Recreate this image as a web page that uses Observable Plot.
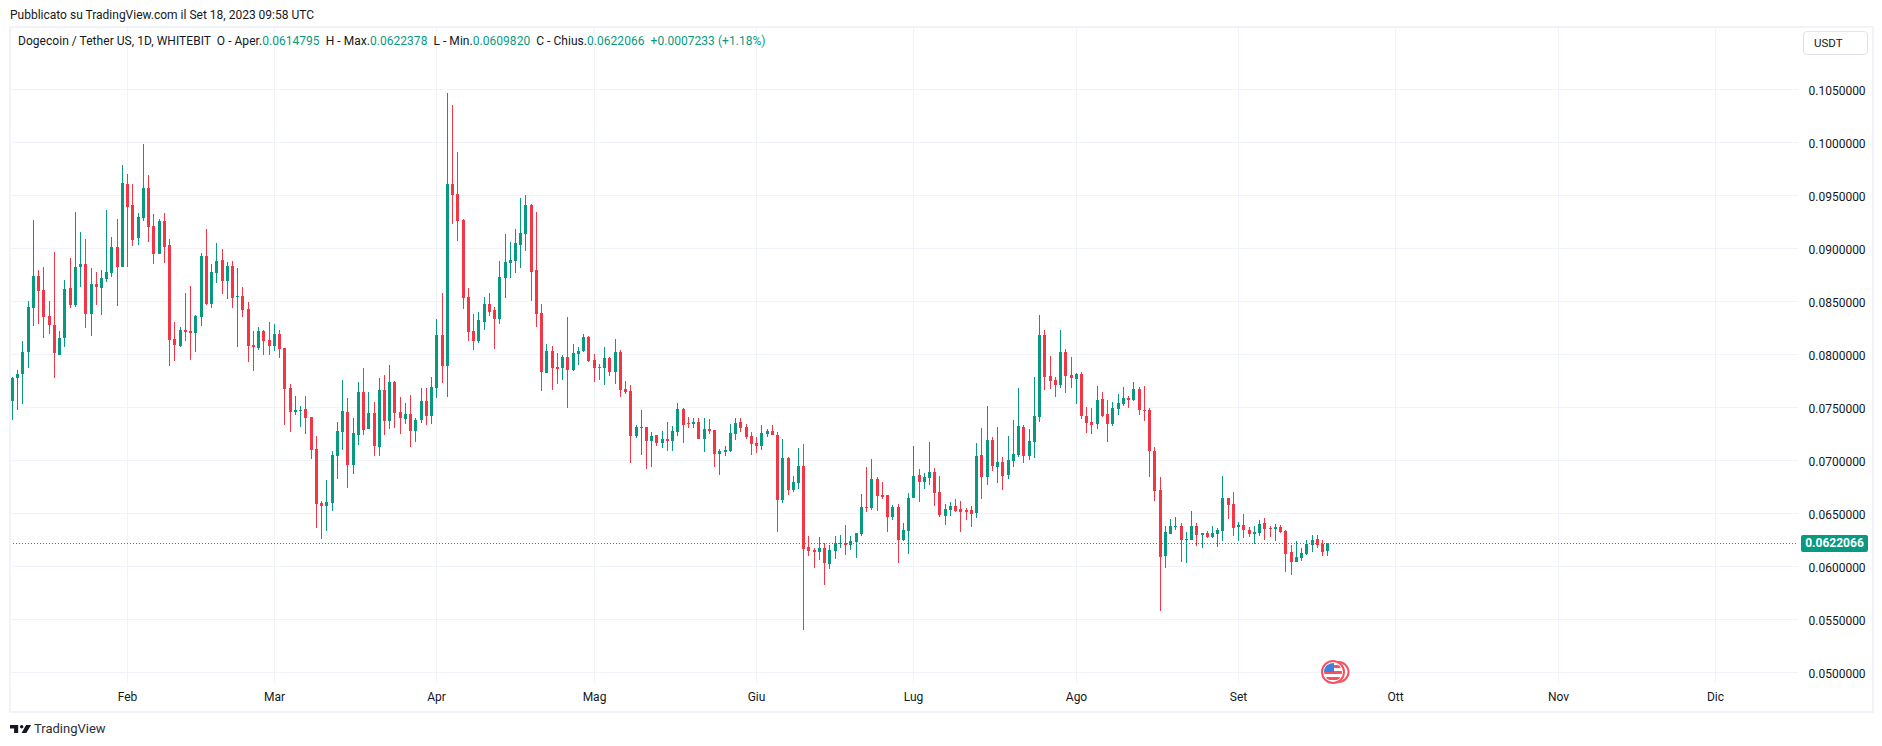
<!DOCTYPE html>
<html lang="it"><head><meta charset="utf-8"><title>Dogecoin / Tether US</title>
<script src="https://cdn.jsdelivr.net/npm/d3@7"></script>
<script src="https://cdn.jsdelivr.net/npm/@observablehq/plot@0.6"></script>
<style>
html,body{margin:0;padding:0;background:#fff;width:1882px;height:746px;overflow:hidden}
body,svg{font-family:Roboto,"Liberation Sans",sans-serif}
#page{position:relative;width:1882px;height:746px}
#pub{height:26px;line-height:31px;padding-left:10px;font-size:12px;color:#131722;white-space:nowrap}
#chart{height:686px}
#chart svg{display:block}
#frame{position:absolute;left:9px;top:26px;width:1861px;height:683px;border:2px solid #f0f3fa;pointer-events:none}
#legend{position:absolute;left:18px;top:35px;font-size:12px;line-height:13px;letter-spacing:.04px;color:#131722;white-space:pre}
#legend b{font-weight:400;color:#089981}
#usdt{position:absolute;left:1803px;top:31px;width:63px;height:22px;border:1px solid #e0e3eb;border-radius:4px;font-size:11.5px;line-height:22px;color:#131722;text-indent:10px;background:#fff}
#last{position:absolute;left:1801px;width:67px;height:17px;line-height:17px;background:#089981;color:#fff;font-size:12px;font-weight:700;text-align:center;border-radius:2px}
#flag{position:absolute;left:1320px;top:658.5px}
#logo{position:absolute;left:10px;top:721px}
#tv{position:absolute;left:34px;top:720px;font-size:13px;line-height:18px;color:#2a2e39}
</style></head><body>
<div id="page">
<div id="pub">Pubblicato su TradingView.com il Set 18, 2023 09:58 UTC</div>
<div id="chart"></div>
<div id="frame"></div>
<div id="legend">Dogecoin / Tether US, 1D, WHITEBIT  O - Aper.<b>0.0614795</b>  H - Max.<b>0.0622378</b>  L - Min.<b>0.0609820</b>  C - Chius.<b>0.0622066</b>  <b>+0.0007233 (+1.18%)</b></div>
<div id="usdt">USDT</div>
<div id="last"></div>
<svg id="flag" width="32" height="26" viewBox="0 0 32 26">
<defs><clipPath id="disc"><circle cx="13" cy="13" r="9"/></clipPath></defs>
<circle cx="18.5" cy="13" r="10" fill="#fff" stroke="#f7525f" stroke-width="2"/>
<circle cx="13" cy="13" r="11" fill="#fff" stroke="#f7525f" stroke-width="2"/>
<g clip-path="url(#disc)">
<rect x="3" y="3" width="20" height="20" fill="#fff"/>
<rect x="3" y="6" width="20" height="3" fill="#f7525f"/><rect x="3" y="12" width="20" height="3" fill="#f7525f"/><rect x="3" y="18" width="20" height="3" fill="#f7525f"/>
<rect x="3" y="3" width="11" height="10" fill="#3b82e6"/>
</g></svg>
<svg id="logo" width="21" height="16" viewBox="0 4 36 18"><path fill="#131722" d="M14 6H0v6h7v8h7V6Z"/><circle cx="20" cy="9" r="3" fill="#131722"/><path fill="#131722" d="m28 20h-8l7.5-14H36z"/></svg>
<div id="tv">TradingView</div>
</div>
<script>
// Prices in thousandths of a USDT, one entry per daily candle, Jan 10 to Sep 18 2023
const opens = [75.63,77.77,78.18,80.25,84.40,87.39,86.07,83.62,82.77,79.97,
81.57,86.26,84.65,88.24,88.52,83.84,86.64,86.26,87.11,87.67,
90.13,88.24,96.07,94.09,90.97,92.86,95.69,92.11,89.47,92.58,
90.31,81.45,80.79,82.30,82.20,82.01,83.52,89.28,84.75,87.67,
88.90,86.92,88.33,85.41,85.50,84.28,80.88,80.60,82.20,81.35,
80.79,81.92,80.60,76.82,74.56,74.65,74.84,74.09,71.07,65.97,
65.69,65.97,70.41,72.67,74.56,69.56,72.39,76.45,72.96,74.47,
71.26,76.64,73.71,77.39,74.56,73.90,74.37,72.77,73.81,75.60,
74.18,76.82,81.82,78.93,96.07,95.13,92.67,85.41,82.20,81.26,
83.05,84.75,84.18,83.33,87.20,88.62,88.81,90.31,91.35,94.09,
87.96,83.90,78.24,80.31,78.81,78.71,79.75,78.52,80.03,80.31,
81.64,79.47,78.81,78.71,79.65,78.33,80.22,76.73,76.54,72.30,
73.05,73.14,71.82,72.39,71.64,72.01,71.82,72.67,74.84,73.52,
73.43,73.62,72.01,72.96,72.86,70.60,70.79,70.88,72.48,73.62,
73.14,72.30,71.64,71.35,72.48,72.77,72.39,66.26,70.22,67.20,
67.86,69.47,61.82,61.54,61.35,61.73,60.22,61.45,62.11,62.20,
62.01,62.30,63.05,65.60,65.50,68.24,66.73,66.73,64.65,65.60,
62.49,63.33,66.45,68.62,67.96,68.33,68.90,67.01,64.75,65.31,
65.69,65.41,65.31,65.31,65.03,70.50,68.43,71.92,69.37,69.84,
68.62,69.94,70.50,73.14,70.41,71.73,74.09,81.82,77.96,77.58,
77.11,80.22,78.05,77.67,78.14,74.18,73.62,73.43,75.79,74.37,
73.43,74.84,75.31,75.88,75.69,76.73,74.75,74.75,70.88,67.20,
60.97,63.05,63.71,63.81,62.48,62.48,63.81,62.96,63.14,62.77,
63.05,63.33,66.45,65.88,63.71,63.90,63.43,63.05,63.14,64.09,
63.62,63.52,63.71,63.33,61.35,60.41,60.79,61.16,62.01,62.58,62.11,61.48];
const highs = [77.86,78.52,81.26,85.03,92.67,87.96,88.24,85.03,89.65,82.20,
87.01,89.09,93.43,91.54,90.88,88.14,87.77,87.96,93.62,91.07,
92.77,97.86,97.01,96.07,93.33,99.84,96.92,93.24,92.77,93.33,
90.88,83.05,82.58,85.79,86.45,83.71,89.56,91.82,88.52,90.50,
89.94,88.71,88.81,88.14,86.35,84.94,82.20,82.58,82.30,83.05,
82.86,82.30,80.60,77.20,76.07,75.13,76.07,74.09,72.30,66.16,
68.14,70.88,73.62,77.58,75.88,73.99,77.39,78.71,76.45,75.50,
77.77,78.05,79.00,77.48,75.97,75.41,76.16,73.99,76.82,76.82,
77.86,83.33,85.79,104.65,103.52,99.09,92.77,86.26,83.81,83.99,
85.41,85.79,84.47,88.81,91.35,90.60,91.82,94.75,95.03,94.18,
93.43,84.75,80.97,80.79,80.13,79.94,83.52,80.97,80.69,81.92,
81.73,80.03,79.09,80.69,79.75,81.45,80.41,77.48,77.11,73.33,
74.75,73.14,72.67,72.39,72.77,73.62,73.24,75.41,74.94,74.09,
73.99,73.99,73.99,73.90,72.86,71.07,71.35,73.43,73.99,73.99,
73.43,72.67,72.20,73.33,72.96,73.33,72.67,72.01,70.31,68.52,
71.16,71.54,62.86,61.73,62.77,62.20,62.01,62.86,62.96,63.90,
62.86,63.14,66.82,69.37,70.13,68.43,67.96,66.73,65.79,65.88,
64.09,66.92,71.35,69.18,68.81,71.73,69.28,68.52,65.88,66.07,
66.35,66.16,65.50,65.69,71.64,73.05,75.13,72.20,73.14,70.31,
72.30,73.81,76.82,73.33,72.96,77.86,83.71,82.30,79.84,77.86,
82.30,80.50,79.75,78.24,78.33,75.03,74.94,77.01,76.45,75.69,
75.50,76.26,76.92,76.07,77.39,76.92,77.01,74.94,71.26,68.43,
63.81,64.47,64.65,64.09,63.24,65.22,64.09,63.14,63.33,63.81,
63.62,68.52,66.45,67.01,64.18,64.94,63.71,63.81,64.37,64.56,
63.81,63.99,63.90,63.43,62.01,62.39,61.73,62.48,62.96,62.96,62.48,62.24];
const lows = [73.84,74.78,75.35,78.74,82.70,82.89,81.57,81.95,77.80,79.97,
80.72,84.40,84.47,86.38,82.52,81.76,84.65,83.71,86.82,87.30,
84.56,88.24,88.24,90.22,90.31,92.58,90.60,88.52,89.47,88.62,
78.90,79.37,80.69,81.26,79.47,80.22,82.67,84.65,84.37,86.73,
85.69,85.22,84.37,80.69,83.52,79.28,78.43,80.41,79.94,79.94,
80.31,79.65,73.33,72.67,74.28,73.14,72.48,70.13,63.62,62.58,
63.33,65.22,68.24,70.97,67.39,68.71,71.45,72.39,72.96,70.41,
70.41,72.39,72.96,73.05,72.48,73.43,71.26,71.73,73.52,73.33,
73.43,75.88,77.30,76.00,92.30,90.69,84.28,81.26,80.41,81.07,
82.30,83.62,80.50,82.86,85.31,87.20,87.67,88.14,89.75,85.03,
82.58,76.54,78.24,76.64,77.20,77.58,74.94,78.43,79.00,80.22,
79.28,77.39,77.58,77.11,77.96,77.20,75.97,76.26,69.75,72.11,
70.50,69.18,69.37,71.35,71.16,70.88,70.88,72.30,71.64,73.05,
73.05,72.01,70.79,72.48,69.37,68.62,70.41,70.79,71.92,72.67,
72.01,70.50,70.69,70.97,72.20,72.39,63.24,65.97,66.73,67.01,
67.30,53.99,60.97,59.84,60.60,58.24,59.75,60.69,61.73,61.07,
61.54,60.79,62.86,65.13,65.31,65.22,66.35,63.24,64.37,60.31,
62.39,61.16,66.45,66.07,67.30,67.67,65.69,64.65,63.90,64.75,
65.13,63.24,64.37,63.71,64.56,66.35,67.67,68.99,67.86,67.20,
68.24,69.37,70.31,69.75,70.03,70.22,73.62,76.64,76.73,75.97,
76.82,76.35,76.82,75.31,73.90,72.58,72.48,72.96,74.09,71.73,
73.24,74.28,75.13,74.94,75.60,74.28,73.71,68.43,66.16,55.79,
59.84,63.05,63.43,60.41,60.31,62.48,61.92,61.73,62.67,62.67,
61.82,62.39,64.47,62.86,62.39,62.67,62.77,62.11,62.86,62.48,
62.77,62.39,63.14,59.47,59.18,60.41,60.50,61.07,61.35,61.73,60.97,60.98];
const closes = [77.77,78.14,80.22,84.47,87.39,86.01,83.55,82.80,80.16,81.54,
86.16,84.65,88.24,88.52,83.84,86.64,86.35,87.20,87.77,90.13,
88.24,96.16,93.90,90.79,92.96,95.69,92.01,89.47,92.58,90.13,
81.35,80.88,82.30,82.11,82.01,83.62,89.28,84.75,87.77,88.81,
86.92,88.33,85.31,85.50,84.18,80.79,80.69,82.20,81.26,80.79,
81.92,80.50,76.73,74.56,74.75,74.75,73.99,70.97,65.88,65.69,
66.07,70.50,72.77,74.65,69.56,72.58,76.45,72.86,74.47,71.35,
76.64,73.71,77.39,74.47,73.99,74.37,72.77,73.81,75.60,74.18,
76.92,81.82,78.90,96.07,95.03,92.58,85.31,82.11,81.26,83.24,
84.75,83.99,83.33,87.30,88.71,88.90,90.50,91.45,94.09,87.77,
83.81,78.33,80.31,78.71,78.62,79.75,78.52,80.13,80.31,81.64,
79.37,78.71,78.71,79.65,78.33,80.22,76.64,76.45,72.30,73.14,
73.14,71.82,72.30,71.64,72.01,71.82,72.77,74.84,73.33,73.43,
73.62,72.01,72.96,72.77,70.60,70.88,70.97,72.58,73.52,73.05,
72.20,71.54,71.35,72.58,72.77,72.39,66.26,70.22,67.20,67.96,
69.47,61.64,61.45,61.35,61.73,60.31,61.54,62.20,62.20,62.01,
62.39,63.14,65.60,65.50,68.24,66.64,66.54,64.65,65.60,62.49,
63.43,66.45,68.52,67.96,68.43,68.90,66.92,64.84,65.41,65.69,
65.22,65.13,65.13,64.94,70.41,68.43,71.92,69.47,69.84,68.52,
70.03,70.60,73.24,70.41,71.82,74.18,81.82,77.86,77.48,77.11,
80.22,77.96,77.77,78.14,74.18,73.52,73.33,75.69,74.18,73.43,
74.94,75.41,75.88,75.69,76.73,74.75,74.65,70.88,67.11,60.88,
63.24,63.81,63.81,62.48,62.58,63.81,62.96,63.14,62.77,63.14,
63.43,66.45,65.79,63.62,63.90,63.43,63.05,63.24,63.99,63.52,
63.52,63.71,63.24,61.16,60.41,60.88,61.26,62.11,62.48,62.01,61.35,62.21];
const monthLabels = ["Feb","Mar","Apr","Mag","Giu","Lug","Ago","Set","Ott","Nov","Dic"];
const monthSlots = [22,50,81,111,142,172,203,234,264,295,325];
const priceTicks = [0.05,0.055,0.06,0.065,0.07,0.075,0.08,0.085,0.09,0.095,0.1,0.105];
const lastPrice = 0.0622066;
const upColor = "#089981", downColor = "#F23645", gridColor = "#f0f3fa", inkColor = "#131722";

const candles = opens.map((o,i)=>({i,open:o/1000,high:highs[i]/1000,low:lows[i]/1000,close:closes[i]/1000}));
const tone = d => d.close >= d.open ? upColor : downColor;

const plot = Plot.plot({
  width: 1882, height: 686,
  marginLeft: 10, marginRight: 84, marginTop: 2, marginBottom: 29,
  style: {fontFamily:"Roboto,'Liberation Sans',sans-serif", fontSize:"12px", color:inkColor, background:"transparent"},
  x: {type:"linear", domain:[-0.3626,340.82], round:true, axis:null},
  y: {type:"linear", domain:[0.04899,0.11078], axis:null},
  marks: [
    Plot.ruleY(priceTicks,{stroke:gridColor,strokeWidth:1,shapeRendering:"crispEdges"}),
    Plot.ruleX(monthSlots,{stroke:gridColor,strokeWidth:1,shapeRendering:"crispEdges"}),
    Plot.ruleY([lastPrice],{stroke:upColor,strokeWidth:1,strokeDasharray:"1 2",shapeRendering:"crispEdges"}),
    Plot.axisX({anchor:"bottom",ticks:monthSlots,tickSize:0,tickPadding:9,tickFormat:v=>monthLabels[monthSlots.indexOf(v)],fill:inkColor,fontSize:12,label:null}),
    Plot.axisY({anchor:"right",ticks:priceTicks,tickSize:0,tickPadding:10,dy:1,tickFormat:v=>v.toFixed(7),fill:inkColor,fontSize:12,label:null,textAnchor:"start"}),
    Plot.ruleX(candles,{x:"i",y1:"low",y2:"high",stroke:tone,strokeWidth:1,shapeRendering:"crispEdges"}),
    Plot.ruleX(candles,{x:"i",y1:"open",y2:"close",stroke:tone,strokeWidth:3,shapeRendering:"crispEdges"})
  ]
});
document.getElementById("chart").appendChild(plot);
const last = document.getElementById("last");
last.textContent = lastPrice.toFixed(7);
last.style.top = (26 + plot.scale("y").apply(lastPrice) - 7.5) + "px";
</script>
</body></html>
